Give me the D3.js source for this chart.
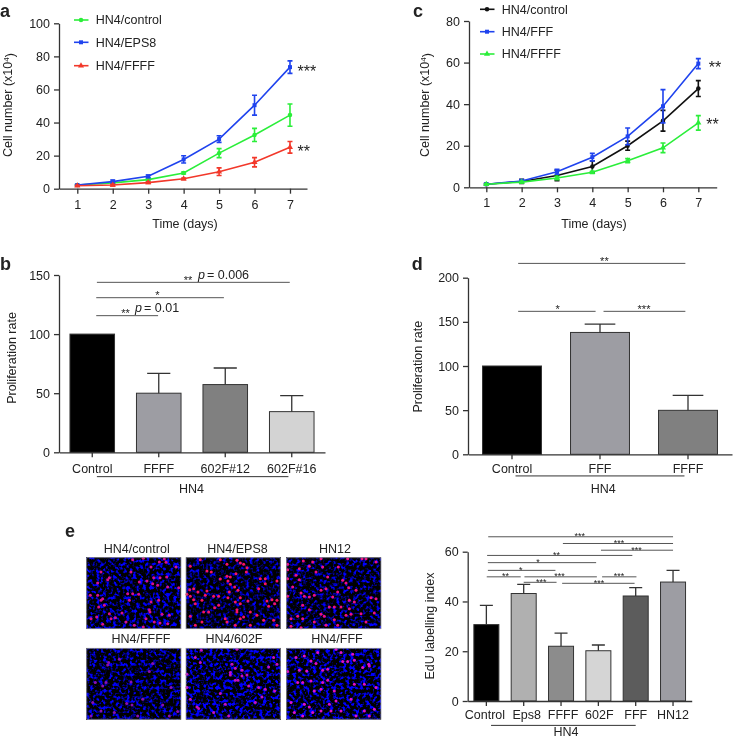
<!DOCTYPE html>
<html><head><meta charset="utf-8">
<script src="https://cdn.jsdelivr.net/npm/d3@7/dist/d3.min.js"></script>
<style>
html,body{margin:0;padding:0;background:#fff}
svg{display:block;filter:blur(0.35px)}
text{font-family:"Liberation Sans",Arial,sans-serif;fill:#222}
</style></head><body>
<svg id="c" width="733" height="739"></svg>
<script>
// ---------- line chart data ----------
const days = [1,2,3,4,5,6,7];
const aControl = [2.2,3.5,5.5,9.5,21.5,32.5,44.5];
const aControlErr = [0.3,0.6,0.6,0.6,2.7,4,6.7];
const aEps8 = [2.2,4.3,7.5,17.7,30,50.5,73.5];
const aEps8Err = [0.3,1,0.8,2.2,2,6,3.8];
const aFfff = [1.8,2.2,3.7,6,10.3,16,25];
const aFfffErr = [0.3,0.5,0.5,0.5,2.3,2.8,3.5];
const cControl = [1.5,2.8,5.7,10,20,32,47.5];
const cControlErr = [0.3,1,2.5,2.7,2.2,5,3.8];
const cFff = [1.5,3,7.5,14.5,24.5,39,59.5];
const cFffErr = [0.3,0.7,1.2,1.8,4,8,2.4];
const cFfff = [1.5,2.5,4.5,7.2,12.8,19,31];
const cFfffErr = [0.2,0.4,0.8,0.5,1,2.3,3.5];
// ---------- bar chart data ----------
const bCats = ["Control","FFFF","602F#12","602F#16"];
const bVals = [100,50,57.3,34.4];
const bTops = [100,66.8,71.3,48];
const bFills = ["#000000","#9d9da3","#808080","#d3d3d3"];
const dCats = ["Control","FFF","FFFF"];
const dVals = [100,138,49.8];
const dTops = [100,147.5,66.8];
const dFills = ["#000000","#9d9da3","#808080"];
const eCats = ["Control","Eps8","FFFF","602F","FFF","HN12"];
const eVals = [30.7,43.2,22,20.2,42.2,47.8];
const eTops = [38.4,46.9,27.3,22.5,45.6,52.5];
const eFills = ["#000000","#b0b0b0","#8c8c8c","#d5d5d5","#5c5c5c","#9d9da3"];
const eLabelShift = [-1.5,3,2,1,0,0];
// significance brackets: from category index, to category index, value level, stars, star index
const bBrackets = [[0.07,2.97,143.8,"**",1.44],[0.06,1.98,130.8,"*",0.98],[0.06,0.99,115.6,"**",0.5]];
const dBrackets = [[0.07,1.97,216.2,"**",1.05],[0.07,0.95,161.9,"*",0.52],[1.04,1.97,161.9,"***",1.5]];
const eBrackets = [[0.05,5,66,"***",2.5],[2.05,5,63.3,"***",3.55],[3.07,5,60.6,"***",4.02],[0.02,3.91,58.5,"**",1.88],[0.04,2.94,55.6,"*",1.38],[0.04,1.85,52.5,"*",0.92],[0.01,0.92,49.9,"**",0.51],[1.02,2.96,49.9,"***",1.96],[3.1,4.02,49.9,"***",3.55],[1,1.88,47.7,"***",1.47],[2.03,3.97,47.3,"***",3.02]];
// ---------- microscopy panels ----------
const imgTitles = ["HN4/control","HN4/EPS8","HN12","HN4/FFFF","HN4/602F","HN4/FFF"];
const imgDotColors = ["#d8108e","#f81464","#ee1084","#8a10b0","#c810c0","#e010c8"];
const img1 = [[140,8],[172,4],[235,6],[220,15],[240,16],[270,30],[195,30],[45,45],[135,45],[70,62],[65,68],[203,62],[222,62],[242,60],[183,72],[160,75],[35,78],[200,80],[215,85],[245,90],[278,92],[13,115],[50,125],[35,115],[45,130],[158,112],[140,110],[125,110],[195,135],[218,130],[38,150],[55,145],[130,130],[190,158],[192,165],[70,170],[32,180],[50,202],[15,185],[88,182],[75,185],[228,172],[250,175],[180,185],[205,195],[222,198],[245,200],[172,210],[120,195],[145,205],[108,168]];
const img2 = [[45,8],[105,8],[155,10],[165,18],[175,22],[125,22],[15,28],[185,32],[65,42],[78,45],[183,45],[152,50],[125,58],[135,60],[105,66],[225,65],[240,65],[275,72],[128,72],[135,82],[240,80],[148,90],[220,95],[13,98],[25,95],[38,105],[5,112],[65,102],[132,105],[158,100],[15,118],[25,128],[50,130],[60,115],[85,118],[100,118],[128,122],[165,122],[188,132],[150,135],[245,132],[260,128],[275,130],[268,140],[250,148],[165,140],[30,140],[100,145],[88,152],[155,158],[155,165],[55,165],[70,165],[195,165],[215,175],[15,178],[120,185],[165,185],[175,180],[125,195],[50,195],[235,190],[265,190],[275,205],[195,205],[150,205],[30,205]];
const img3 = [[52,12],[80,15],[105,5],[185,5],[228,5],[240,5],[270,15],[5,22],[5,38],[70,28],[40,35],[90,45],[110,30],[157,30],[30,55],[5,65],[40,68],[125,60],[170,70],[180,78],[188,92],[20,90],[120,95],[45,108],[55,118],[70,120],[85,115],[105,100],[155,105],[210,100],[140,120],[5,118],[255,122],[270,125],[205,135],[190,130],[130,150],[145,150],[165,150],[190,155],[50,145],[70,158],[225,170],[15,185],[35,178],[50,185],[105,172],[115,178],[145,188],[180,175],[195,172],[265,168],[240,195],[15,208],[45,212],[155,205],[120,205],[85,195]];
const img4 = [[68,45],[65,52],[28,105],[50,115],[135,103],[255,120],[190,72],[170,155],[230,172],[138,172],[85,195],[45,190],[275,192],[250,205],[155,205],[122,168],[60,105],[200,48],[100,35],[15,205],[20,165]];
const img5 = [[30,30],[45,45],[5,80],[135,75],[135,82],[150,98],[158,98],[170,85],[185,82],[170,68],[150,62],[190,115],[220,120],[240,125],[268,130],[155,5],[48,8],[250,58],[275,50],[35,178],[40,183],[130,205],[105,138],[230,148],[265,30],[5,120],[15,155],[85,195],[210,165],[120,170],[140,50]];
const img6 = [[250,55],[248,50],[50,105],[35,105],[75,40],[90,48],[200,20],[170,42],[185,42],[205,38],[150,5],[165,15],[5,72],[40,68],[62,70],[110,68],[125,65],[75,100],[105,125],[145,130],[205,110],[235,110],[195,155],[150,160],[130,170],[55,170],[70,178],[80,195],[105,190],[135,190],[165,190],[235,190],[265,185],[15,165],[25,195],[50,205],[210,205],[250,205],[270,120],[30,30],[55,25],[95,15],[230,60],[110,105],[125,98],[85,130]];

const svg = d3.select("#c");
const AX = "#333", FS = 12.5;
const GREEN = "#2bee3a", BLUE = "#1f43ee", RED = "#f2382a", BLACK = "#111";

function txt(g,x,y,s,o={}){
  return g.append("text").attr("x",x).attr("y",y).attr("text-anchor",o.anchor||"middle")
    .attr("font-size",o.fs||FS).attr("font-weight",o.w||null).attr("font-style",o.st||null)
    .attr("dy",o.dy===undefined?"0.35em":o.dy).text(s);
}
function stars(g,x,cy,s,fs){ // asterisk glyph centre sits 0.6em above baseline
  return txt(g,x,cy+0.6*fs,s,{fs,dy:0});
}
function styleAxis(sel){
  sel.selectAll("path.domain,line").attr("stroke",AX).attr("stroke-width",1.3);
  sel.selectAll("text").attr("font-size",FS).attr("font-family",'"Liberation Sans",Arial,sans-serif').attr("fill","#222");
  sel.attr("font-size",FS);
}
function yTitle(g,x,y,build){
  const t=g.append("text").attr("transform",`translate(${x},${y}) rotate(-90)`).attr("text-anchor","middle").attr("font-size",FS).attr("dy","0.35em");
  build(t);
}

function lineChart(o){
  const g = svg.append("g");
  const x = d3.scaleLinear().domain(o.xd).range(o.xr);
  const y = d3.scaleLinear().domain([0,o.ymax]).range(o.yr);
  const ax = g.append("g").attr("transform",`translate(0,${o.yr[0]})`).call(d3.axisBottom(x).tickValues(days).tickFormat(d3.format("d")).tickSize(5).tickSizeOuter(0).tickPadding(6));
  const ay = g.append("g").attr("transform",`translate(${o.xr[0]},0)`).call(d3.axisLeft(y).tickValues(o.yt).tickSize(5).tickSizeOuter(0).tickPadding(4));
  styleAxis(ax); styleAxis(ay);
  const line = d3.line().x((d,i)=>x(days[i])).y(d=>y(d));
  o.series.forEach(s=>{
    g.append("path").attr("d",line(s.v)).attr("fill","none").attr("stroke",s.c).attr("stroke-width",1.6);
    s.v.forEach((v,i)=>{
      const e=s.e[i], cx=x(days[i]);
      const p=d3.path(); p.moveTo(cx,y(v-e));p.lineTo(cx,y(v+e));
      p.moveTo(cx-2.5,y(v-e));p.lineTo(cx+2.5,y(v-e));p.moveTo(cx-2.5,y(v+e));p.lineTo(cx+2.5,y(v+e));
      g.append("path").attr("d",p.toString()).attr("fill","none").attr("stroke",s.c).attr("stroke-width",1.6);
    });
    g.append("g").selectAll("path").data(s.v).join("path")
      .attr("transform",(d,i)=>`translate(${x(days[i])},${y(d)})`)
      .attr("d",d3.symbol().type(s.m).size(16)).attr("fill",s.c);
  });
  o.legend.forEach((l,i)=>{
    const s=o.series[i];
    g.append("line").attr("x1",o.lx).attr("x2",o.lx+14.5).attr("y1",l).attr("y2",l).attr("stroke",s.c).attr("stroke-width",1.6);
    g.append("path").attr("transform",`translate(${o.lx+7},${l})`).attr("d",d3.symbol().type(s.m).size(16)).attr("fill",s.c);
    txt(g,o.lx+21.8,l,s.n,{anchor:"start"});
  });
  o.sig.forEach(a=>stars(g,x(7)+a.dx+a.s.length*3.1,y(a.v)+a.dy,a.s,16));
  txt(g,o.tx,224,"Time (days)");
  yTitle(g,o.yx,105,t=>{t.append("tspan").text("Cell number (x10");t.append("tspan").attr("dy","-0.4em").attr("font-size",8).text("4");t.append("tspan").attr("dy","0.4em").text(")");});
}

lineChart({xd:[0.484,7.48],xr:[59,307],ymax:100,yr:[188.7,23.3],yt:[0,20,40,60,80,100],lx:74,legend:[20,42.3,65.7],tx:185,yx:8,
  series:[{n:"HN4/control",c:GREEN,v:aControl,e:aControlErr,m:d3.symbolCircle},{n:"HN4/EPS8",c:BLUE,v:aEps8,e:aEps8Err,m:d3.symbolSquare},{n:"HN4/FFFF",c:RED,v:aFfff,e:aFfffErr,m:d3.symbolTriangle}],
  sig:[{v:73.5,s:"***",dx:7.5,dy:0},{v:25,s:"**",dx:7.5,dy:0}]});
lineChart({xd:[0.51,7.52],xr:[469,716.7],ymax:80,yr:[187.3,21],yt:[0,20,40,60,80],lx:480,legend:[9.3,31.7,54],tx:594,yx:425,
  series:[{n:"HN4/control",c:BLACK,v:cControl,e:cControlErr,m:d3.symbolCircle},{n:"HN4/FFF",c:BLUE,v:cFff,e:cFffErr,m:d3.symbolSquare},{n:"HN4/FFFF",c:GREEN,v:cFfff,e:cFfffErr,m:d3.symbolTriangle}],
  sig:[{v:59.5,s:"**",dx:10.5,dy:0},{v:31,s:"**",dx:8,dy:-2.5}]});

function barChart(o){
  const g = svg.append("g");
  const x = d3.scaleBand().domain(o.cats).range(o.xr).paddingInner(0.33).paddingOuter(0.165);
  const y = d3.scaleLinear().domain([0,o.ymax]).range(o.yr);
  const c = i => x(o.cats[0]) + x.bandwidth()/2 + i*x.step();
  g.selectAll("rect").data(o.vals).join("rect")
    .attr("x",(d,i)=>x(o.cats[i])).attr("y",d=>y(d)).attr("width",x.bandwidth()).attr("height",d=>y(0)-y(d))
    .attr("fill",(d,i)=>o.fills[i]).attr("stroke","#333").attr("stroke-width",1);
  o.tops.forEach((t,i)=>{
    if(t<=o.vals[i]) return;
    const cx=c(i), h=x.bandwidth()*0.26, p=d3.path();
    p.moveTo(cx,y(o.vals[i]));p.lineTo(cx,y(t));p.moveTo(cx-h,y(t));p.lineTo(cx+h,y(t));
    g.append("path").attr("d",p.toString()).attr("fill","none").attr("stroke","#333").attr("stroke-width",1.3);
  });
  const ax = g.append("g").attr("transform",`translate(0,${o.yr[0]})`).call(d3.axisBottom(x).tickSize(5).tickSizeOuter(0).tickPadding(o.xpad));
  const ay = g.append("g").attr("transform",`translate(${o.xr[0]},0)`).call(d3.axisLeft(y).tickValues(o.yt).tickSize(5).tickSizeOuter(0).tickPadding(4));
  styleAxis(ax); styleAxis(ay);
  if(o.labelShift) ax.selectAll(".tick text").attr("dx",(d,i)=>o.labelShift[i]);
  o.brackets.forEach(b=>{
    g.append("line").attr("x1",c(b[0])).attr("x2",c(b[1])).attr("y1",y(b[2])).attr("y2",y(b[2])).attr("stroke","#555").attr("stroke-width",1);
    stars(g,c(b[4]),y(b[2])-o.sgap,b[3],o.sfs);
  });
  g.append("line").attr("x1",c(o.hn[0])).attr("x2",c(o.hn[1])).attr("y1",y(o.hn[2])).attr("y2",y(o.hn[2])).attr("stroke","#333").attr("stroke-width",1);
  txt(g,o.hnx,o.hny,"HN4");
  yTitle(g,o.yx,o.yy,t=>t.text(o.title));
  return {g,c,y};
}
const B = barChart({cats:bCats,vals:bVals,tops:bTops,fills:bFills,xr:[59,325],ymax:150,yr:[452.3,275],yt:[0,50,100,150],xpad:7,brackets:bBrackets,sgap:5,sfs:11,hn:[0.07,2.95,-20.6],hnx:191.5,hny:488.5,yx:12,yy:358,title:"Proliferation rate"});
function pText(g,x,y,s){txt(g,x,y,"p",{anchor:"start",st:"italic"});g.append("text").attr("x",x+9).attr("y",y).attr("dy","0.35em").attr("font-size",FS).text(s);}
pText(B.g,198,275,"= 0.006");
pText(B.g,135,308,"= 0.01");
barChart({cats:dCats,vals:dVals,tops:dTops,fills:dFills,xr:[468,732],ymax:200,yr:[454.3,277.7],yt:[0,50,100,150,200],xpad:5,brackets:dBrackets,sgap:5,sfs:11,hn:[0.04,1.96,-24.5],hnx:603.3,hny:488.5,yx:418,yy:366.7,title:"Proliferation rate"});
barChart({cats:eCats,vals:eVals,tops:eTops,fills:eFills,xr:[467.7,691.7],ymax:60,yr:[701,551.7],yt:[0,20,40,60],xpad:4.6,labelShift:eLabelShift,brackets:eBrackets,sgap:3,sfs:9,hn:[0.125,4,-9.8],hnx:566,hny:731.5,yx:430,yy:626,title:"EdU labelling index"});

// ---------- microscopy images ----------
const defs = svg.append("defs");
const imgSets = [img1,img2,img3,img4,img5,img6];
const imgSlope = [4.6,3.6,4,4.4,5.4,5];
const imgLeft = [86.7,186,286.7];
const imgTop = [557.7,648.3];
const titleCx = [136.7,237.5,335,141,234,337];
imgSets.forEach((dots,i)=>{
  const x0=imgLeft[i%3], y0=imgTop[Math.floor(i/3)], w=94.3, h=71;
  const f=defs.append("filter").attr("id","noise"+i).attr("x",0).attr("y",0).attr("width","100%").attr("height","100%").attr("color-interpolation-filters","sRGB");
  f.append("feTurbulence").attr("type","fractalNoise").attr("baseFrequency",0.3).attr("numOctaves",2).attr("seed",i+3);
  f.append("feColorMatrix").attr("type","matrix").attr("values",`0 0 0 0 0  0 0 0 0 0  ${imgSlope[i]} 0 0 0 ${-imgSlope[i]*0.47}  0 0 0 0 1`);
  f.append("feGaussianBlur").attr("stdDeviation",0.5);
  const g=svg.append("g");
  g.append("rect").attr("x",x0).attr("y",y0).attr("width",w).attr("height",h).attr("fill","#000");
  g.append("rect").attr("x",x0).attr("y",y0).attr("width",w).attr("height",h).attr("filter",`url(#noise${i})`);
  const sx=d3.scaleLinear().domain([0,288]).range([x0-0.7,x0-0.7+96]);
  const sy=d3.scaleLinear().domain([0,216]).range([y0-0.7,y0-0.7+72]);
  g.append("g").selectAll("circle").data(dots).join("circle").attr("cx",d=>sx(d[0])).attr("cy",d=>sy(d[1])).attr("r",1.5).attr("fill",imgDotColors[i]);
  g.append("rect").attr("x",x0).attr("y",y0).attr("width",w).attr("height",h).attr("fill","none").attr("stroke","#9a9aa5").attr("stroke-width",0.8);
  txt(svg,titleCx[i],y0-9.5,imgTitles[i]);
});

// ---------- panel letters ----------
[["a",0,16.5],["b",0,270],["c",413,16.5],["d",411.7,270],["e",65,536.7]].forEach(l=>{
  txt(svg,l[1],l[2],l[0],{anchor:"start",fs:18,w:"bold",dy:0}).attr("fill","#000");
});
</script>
</body></html>
